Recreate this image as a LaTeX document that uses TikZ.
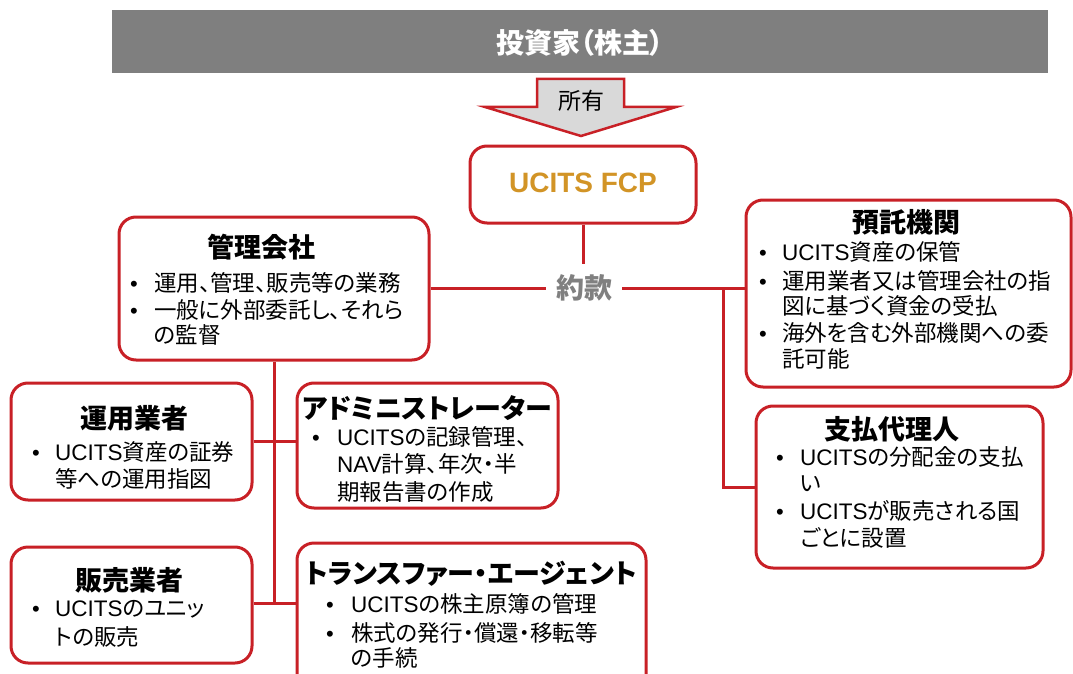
\documentclass[tikz,border=0pt]{standalone}
\usepackage{fontspec}
\setmainfont[RawFeature=+palt]{Noto Sans CJK JP}
\newfontfamily\lat{Liberation Sans}
\usetikzlibrary{fit}
\definecolor{ucred}{RGB}{200,32,38}
\definecolor{gold}{RGB}{210,148,38}
\definecolor{bannergray}{RGB}{127,127,127}
\definecolor{yakgray}{RGB}{128,128,128}
\definecolor{arrowfill}{RGB}{217,217,217}
\tikzset{
 box/.style={draw=ucred, line width=3pt, rounded corners=17pt, fill=white, inner sep=0pt},
 ttl/.style={anchor=base, inner sep=0pt, font=\fontsize{27}{30}\selectfont\bfseries},
 bodytxt/.style={anchor=base west, inner sep=0pt, font=\fontsize{22.5}{26}\selectfont},
 bulletmark/.style={anchor=base, inner sep=0pt, font=\fontsize{22}{26}\selectfont\lat},
 conn/.style={draw=ucred, line width=3pt},
}
\newcommand\tline[4]{\node[bodytxt] (#1) at (#2,#3) {#4};}
\newcommand\bul[3]{\node[bulletmark] (#1) at (#2,#3) {•};}
\begin{document}
\begin{tikzpicture}[x=1pt,y=-1pt]
\useasboundingbox (0,0) rectangle (1073,674);
% banner
\node[fill=bannergray, inner sep=0pt, fit={(112,10) (1048,73)}] (banner) {};
\node[text=white, inner sep=0pt, font=\fontsize{28}{30}\selectfont\bfseries] (bannertxt) at (580,43) {投資家（株主）};
% arrow
\draw[draw=ucred, fill=arrowfill, line width=2.5pt, line join=miter] (537,79) -- (624,79) -- (624,107) -- (676,107) -- (581,136) -- (485,107) -- (537,107) -- cycle;
\node[inner sep=0pt, font=\fontsize{23}{25}\selectfont] (shoyu) at (581,101) {所有};
% FCP
\node[box, fit={(470,146) (696,223)}] (fcp) {};
\node[inner sep=0pt, text=gold, font=\fontsize{28}{30}\selectfont\lat\bfseries] (fcptxt) at (583,183) {UCITS FCP};
% yakkan
\node[inner sep=10pt, text=yakgray, font=\fontsize{28}{30}\selectfont\bfseries] (yak) at (584,288) {約款};
% boxes
\node[box, fit={(119,217) (429,360)}] (kanri) {};
\node[box, fit={(746,200) (1071,387)}] (yotaku) {};
\node[box, fit={(756,406) (1043,568)}] (shiharai) {};
\node[box, fit={(11,383) (252,500)}] (unyo) {};
\node[box, fit={(297,383) (558,508)}] (admin) {};
\node[box, fit={(11,547) (252,663)}] (hanbai) {};
\node[box, fit={(297,543) (646,692)}] (transfer) {};
% connectors
\coordinate (j1) at (723,288);
\draw[conn] (fcp.south) -- (fcp.south |- yak.north);
\draw[conn] (kanri.east |- yak.west) -- (yak.west);
\draw[conn] (yak.east) -- (yak.east -| yotaku.west);
\draw[conn] (j1) |- (shiharai.west);
\draw[conn] (kanri.south) -- (kanri.south |- 0,603);
\draw[conn] (unyo.east |- 0,441) -- (admin.west |- 0,441);
\draw[conn] (hanbai.east |- 0,603) -- (transfer.west |- 0,603);
% kanri text
\node[ttl] (kanrit) at (261,257) {管理会社};
\bul{kb1}{134}{291}
\tline{k1}{154}{291}{運用、管理、販売等の業務}
\bul{kb2}{134}{318}
\tline{k2}{154}{318}{一般に外部委託し、それら}
\tline{k3}{154}{343}{の監督}
% yotaku text
\node[ttl] (yotakut) at (906,232) {預託機関};
\bul{yb1}{763}{260}
\tline{y1}{782}{260}{{\lat UCITS}資産の保管}
\bul{yb2}{763}{289}
\tline{y2}{782}{289}{運用業者又は管理会社の指}
\tline{y3}{782}{314}{図に基づく資金の受払}
\bul{yb3}{763}{341}
\tline{y4}{782}{341}{海外を含む外部機関への委}
\tline{y5}{782}{367}{託可能}
% shiharai text
\node[ttl] (shiharait) at (892,439) {支払代理人};
\bul{sb1}{780}{465}
\tline{s1}{800}{465}{{\lat UCITS}の分配金の支払}
\tline{s2}{800}{491}{い}
\bul{sb2}{780}{519}
\tline{s3}{800}{519}{{\lat UCITS}が販売される国}
\tline{s4}{800}{546}{ごとに設置}
% unyo text
\node[ttl] (unyot) at (134,428) {運用業者};
\bul{ub1}{36}{460}
\tline{u1}{55}{460}{{\lat UCITS}資産の証券}
\tline{u2}{55}{487}{等への運用指図}
% admin text
\node[ttl] (admint) at (427,418) {アドミニストレーター};
\bul{ab1}{316}{445}
\tline{a1}{337}{445}{{\lat UCITS}の記録管理、}
\tline{a2}{337}{472}{{\lat NAV}計算、年次・半}
\tline{a3}{337}{500}{期報告書の作成}
% hanbai text
\node[ttl] (hanbait) at (129,590) {販売業者};
\bul{hb1}{36}{616}
\tline{h1}{55}{616}{{\lat UCITS}のユニッ}
\tline{h2}{55}{645}{トの販売}
% transfer text
\node[ttl] (transfert) at (471,583) {トランスファー・エージェント};
\bul{tb1}{330}{612}
\tline{t1}{351}{612}{{\lat UCITS}の株主原簿の管理}
\bul{tb2}{330}{641}
\tline{t2}{351}{641}{株式の発行・償還・移転等}
\tline{t3}{351}{666}{の手続}
\end{tikzpicture}
\end{document}
